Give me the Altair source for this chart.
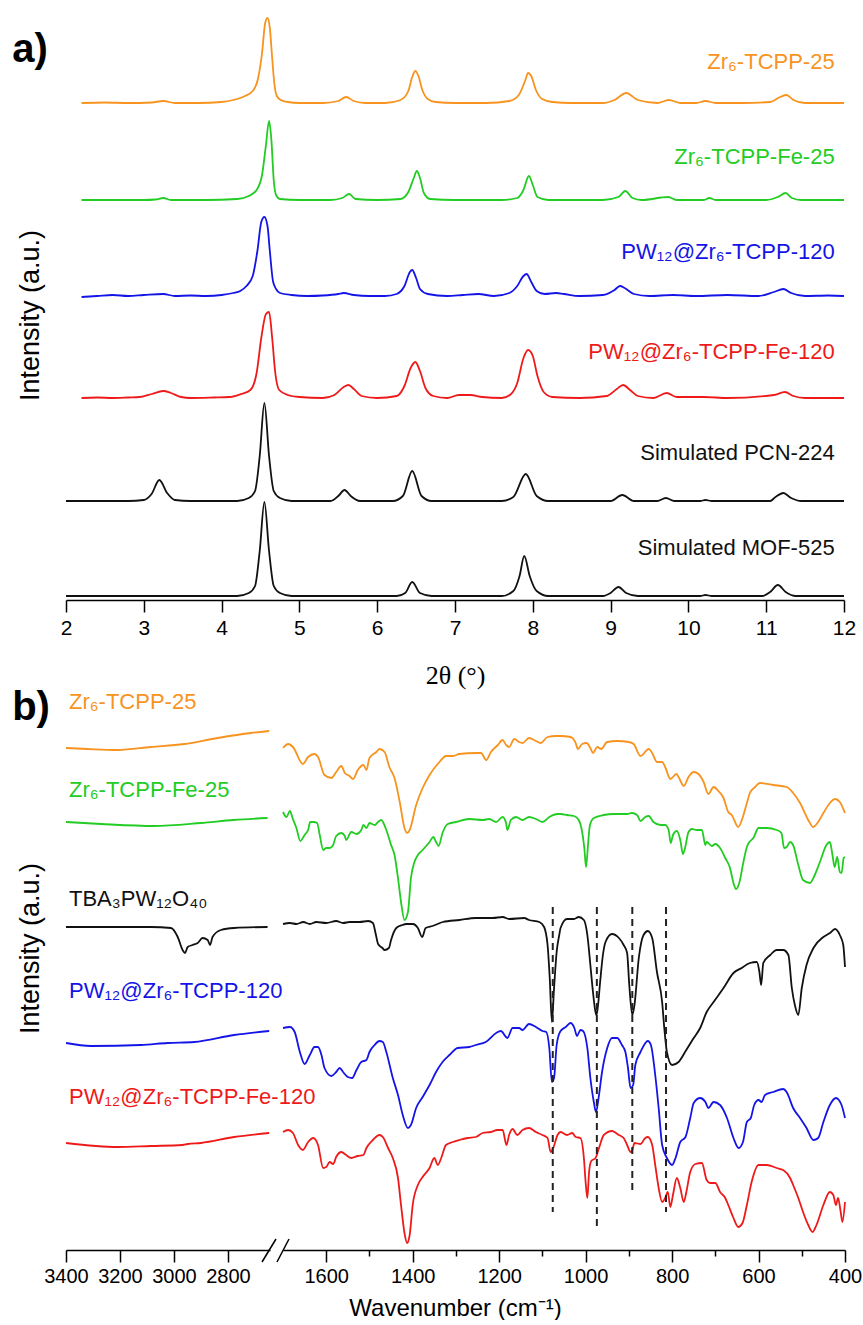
import altair as alt
import pandas as pd

FONT = "Liberation Sans"

# ---------------------------------------------------------------- series
SERIES = [
    "Zr₆-TCPP-25",
    "Zr₆-TCPP-Fe-25",
    "PW₁₂@Zr₆-TCPP-120",
    "PW₁₂@Zr₆-TCPP-Fe-120",
    "Simulated PCN-224",
    "Simulated MOF-525",
    "TBA₃PW₁₂O₄₀",
]
COLORS = ["#F7931E", "#22CC22", "#1414E6", "#EE1A1A", "#111111", "#111111", "#111111"]

# ---------------------------------------------------------------- (a) PXRD
# (2theta, intensity above the trace's own baseline)
XRD_ZR = [(2.2, 0), (2.5, 0.5), (2.8, 0), (3.1, 0.5), (3.25, 2), (3.4, 0), (3.7, 0), (4.0, 1),
          (4.15, 3), (4.3, 7), (4.4, 12), (4.47, 25), (4.52, 50), (4.56, 80), (4.59, 85),
          (4.62, 75), (4.65, 45), (4.68, 18), (4.71, 7), (4.76, 3), (4.85, 1), (5.0, 0),
          (5.3, 0), (5.5, 2), (5.6, 6), (5.7, 2), (5.85, 0), (6.1, 0), (6.3, 3), (6.4, 12),
          (6.45, 26), (6.49, 32), (6.53, 27), (6.58, 13), (6.65, 4), (6.75, 1), (7.0, 0),
          (7.4, 0), (7.7, 2), (7.82, 8), (7.9, 22), (7.94, 30), (7.98, 27), (8.04, 13),
          (8.12, 4), (8.25, 1), (8.5, 0), (8.9, 0), (9.05, 3), (9.2, 10), (9.35, 3), (9.6, 0),
          (9.75, 3), (9.9, 0), (10.1, 0), (10.22, 2), (10.35, 0), (10.7, 0), (11.05, 1),
          (11.18, 6), (11.26, 8), (11.35, 3), (11.5, 0), (11.8, 0), (12.0, 0)]
XRD_ZR_FE = [(2.2, 0), (2.6, 0), (3.0, 0), (3.15, 0.5), (3.25, 2), (3.35, 0), (3.8, 0), (4.2, 1),
             (4.35, 4), (4.45, 10), (4.52, 25), (4.57, 55), (4.61, 79), (4.64, 60), (4.67, 20),
             (4.7, 5), (4.75, 1), (5.0, 0), (5.4, 0), (5.55, 2), (5.64, 6), (5.72, 1), (6.0, 0),
             (6.3, 1), (6.4, 8), (6.47, 22), (6.51, 29), (6.55, 22), (6.6, 7), (6.68, 1),
             (7.0, 0), (7.6, 0), (7.8, 2), (7.88, 10), (7.95, 24), (8.0, 15), (8.06, 3),
             (8.2, 0), (8.9, 0), (9.1, 3), (9.19, 9), (9.28, 2), (9.4, 0), (9.74, 3), (9.85, 0),
             (10.2, 0), (10.27, 2), (10.35, 0), (11.0, 0), (11.15, 3), (11.25, 7), (11.33, 2),
             (11.45, 0), (12.0, 0)]
XRD_PW_ZR = [(2.2, -1), (2.4, 0), (2.6, 1), (2.8, 0), (3.0, 1), (3.25, 2), (3.4, 0), (3.6, 0.5),
             (3.8, 0), (4.0, 1), (4.15, 3), (4.24, 5), (4.32, 10), (4.4, 20), (4.46, 45),
             (4.51, 74), (4.55, 79), (4.59, 70), (4.62, 45), (4.66, 15), (4.7, 7), (4.75, 3),
             (4.9, 1), (5.1, 0), (5.3, 0.5), (5.5, 2), (5.57, 3), (5.7, 1), (5.9, 0), (6.1, 0),
             (6.25, 2), (6.35, 10), (6.42, 24), (6.45, 26), (6.5, 18), (6.55, 7), (6.65, 2),
             (6.9, 0), (7.1, 1), (7.3, 2), (7.5, 0), (7.7, 3), (7.8, 10), (7.88, 20), (7.92, 22),
             (7.98, 14), (8.05, 5), (8.15, 2), (8.3, 3), (8.4, 2), (8.6, 0), (8.9, 1), (9.05, 6),
             (9.12, 10), (9.18, 8), (9.3, 2), (9.5, 0), (9.8, 1), (10.1, 0), (10.5, 1),
             (10.9, 0), (11.1, 4), (11.22, 7), (11.32, 3), (11.5, 0), (11.8, 0.5), (12.0, 0)]
XRD_PW_ZR_FE = [(2.2, 0), (2.4, 0.5), (2.6, 0), (2.8, 0.5), (2.95, 1), (3.1, 4), (3.25, 7),
                (3.35, 5), (3.48, 1), (3.6, 0), (3.9, 0.5), (4.1, 1), (4.25, 4), (4.37, 8),
                (4.45, 25), (4.51, 60), (4.57, 84), (4.61, 86), (4.65, 60), (4.69, 25),
                (4.74, 8), (4.85, 3), (5.0, 1), (5.3, 0), (5.45, 3), (5.57, 11), (5.63, 13),
                (5.7, 9), (5.8, 2), (6.0, 0), (6.25, 2), (6.35, 12), (6.43, 30), (6.49, 36),
                (6.55, 27), (6.62, 10), (6.72, 2), (6.9, 0), (7.05, 3), (7.2, 3), (7.35, 1),
                (7.6, 0), (7.72, 4), (7.8, 15), (7.88, 40), (7.94, 48), (8.0, 42), (8.06, 22),
                (8.14, 6), (8.25, 1), (8.6, 0), (8.95, 2), (9.08, 9), (9.16, 13), (9.25, 8),
                (9.35, 2), (9.55, 0), (9.72, 5), (9.85, 1), (10.2, 1), (10.5, 0), (11.1, 3),
                (11.24, 6), (11.35, 2), (11.5, 0), (12.0, 0)]
XRD_PCN224 = [(2.0, 0), (2.8, 0), (3.0, 1), (3.1, 7), (3.2, 21), (3.3, 8), (3.4, 1), (3.6, 0),
              (4.2, 0), (4.35, 3), (4.43, 10), (4.49, 45), (4.55, 98), (4.61, 45), (4.67, 10),
              (4.75, 3), (4.9, 0), (5.4, 0), (5.5, 5), (5.58, 11), (5.66, 5), (5.78, 0),
              (6.2, 0), (6.33, 5), (6.45, 30), (6.57, 5), (6.7, 0), (7.6, 0), (7.75, 4),
              (7.91, 27), (8.05, 5), (8.2, 0), (9.0, 0), (9.15, 6), (9.3, 0), (9.6, 0),
              (9.71, 3), (9.82, 0), (10.15, 0), (10.22, 1), (10.3, 0), (11.05, 0), (11.12, 4),
              (11.22, 8), (11.32, 3), (11.45, 0), (12.0, 0)]
XRD_MOF525 = [(2.0, 0), (4.2, 0), (4.35, 3), (4.43, 10), (4.49, 45), (4.55, 94), (4.61, 45),
              (4.67, 10), (4.75, 3), (4.9, 0), (6.25, 0), (6.36, 3), (6.45, 14), (6.55, 3),
              (6.7, 0), (7.6, 0), (7.75, 5), (7.83, 20), (7.89, 40), (7.96, 20), (8.05, 5),
              (8.2, 0), (8.9, 0), (9.0, 3), (9.1, 9), (9.2, 3), (9.35, 0), (10.15, 0),
              (10.22, 1), (10.3, 0), (10.95, 0), (11.05, 4), (11.15, 11), (11.25, 4),
              (11.38, 0), (12.0, 0)]

XRD_TRACES = [XRD_ZR, XRD_ZR_FE, XRD_PW_ZR, XRD_PW_ZR_FE, XRD_PCN224, XRD_MOF525]
XRD_NAMES = SERIES[:6]
XRD_OFFSETS = [497, 400, 304, 202, 99, 4]
XRD_LABEL_Y = [538, 443, 348, 248, 147, 52]
XRD_LABEL_X = 11.88
XRD_TICKS = [2 + 0.5 * i for i in range(21)]

# ---------------------------------------------------------------- (b) FT-IR
# (wavenumber, stacked transmittance) for the high- and low-wavenumber windows
IR_ZR_HI = [(3400, 502), (3320, 501), (3209, 500), (3085, 503), (2962, 506), (2838, 512),
            (2715, 517), (2647, 519)]
IR_ZR_FE_HI = [(3400, 428), (3270, 426), (3074, 424), (2900, 427), (2778, 430), (2653, 432)]
IR_TBA_HI = [(3400, 323), (3270, 323), (3085, 323), (3011, 322), (2986, 313), (2968, 300),
             (2959, 297), (2949, 303), (2931, 305), (2912, 307), (2894, 312), (2875, 310),
             (2866, 305), (2857, 313), (2826, 320), (2777, 322), (2653, 323)]
IR_PW_ZR_HI = [(3400, 207), (3307, 204), (3122, 205), (3023, 207), (2925, 208), (2777, 215),
               (2647, 219)]
IR_PW_ZR_FE_HI = [(3400, 107), (3209, 103), (3085, 104), (2968, 105), (2949, 106), (2900, 107),
                  (2777, 113), (2647, 117)]

IR_ZR_LO = [(1700, 502), (1688, 506), (1677, 503), (1654, 486), (1642, 493), (1627, 496),
            (1619, 493), (1604, 475), (1588, 472), (1577, 478), (1565, 484), (1557, 477),
            (1546, 474), (1538, 471), (1527, 480), (1514, 485), (1507, 480), (1500, 492),
            (1484, 498), (1477, 501), (1465, 498), (1454, 483), (1442, 472), (1430, 448),
            (1419, 422), (1413, 417), (1407, 420), (1392, 445), (1377, 462), (1361, 475),
            (1338, 488), (1323, 494), (1307, 494), (1292, 496), (1254, 497), (1242, 497),
            (1230, 490), (1219, 498), (1203, 505), (1192, 510), (1184, 505), (1177, 503),
            (1165, 511), (1154, 508), (1146, 507), (1131, 512), (1115, 509), (1104, 507),
            (1088, 513), (1069, 514), (1058, 514), (1035, 513), (1023, 507), (1018, 501),
            (1008, 506), (998, 507), (989, 502), (983, 497), (973, 503), (964, 501), (950, 508),
            (927, 509), (900, 508), (889, 506), (873, 494), (854, 501), (846, 497), (835, 488),
            (823, 488), (816, 483), (804, 471), (790, 476), (785, 473), (773, 464), (762, 473),
            (750, 478), (739, 476), (727, 468), (716, 456), (704, 463), (693, 459), (681, 452),
            (670, 438), (662, 435), (647, 423), (637, 432), (627, 447), (620, 457), (608, 463),
            (597, 467), (566, 465), (535, 463), (520, 457), (504, 447), (485, 430), (474, 423),
            (462, 428), (450, 437), (435, 447), (423, 451), (412, 448), (400, 437)]
IR_ZR_FE_LO = [(1700, 438), (1692, 433), (1684, 439), (1678, 432), (1669, 422), (1660, 409),
               (1650, 415), (1642, 420), (1637, 428), (1629, 428), (1621, 427), (1615, 415),
               (1607, 400), (1600, 402), (1592, 402), (1584, 405), (1577, 414), (1565, 417),
               (1557, 414), (1554, 410), (1542, 418), (1530, 416), (1519, 420), (1514, 425),
               (1507, 422), (1500, 427), (1488, 425), (1480, 428), (1473, 430), (1461, 420),
               (1450, 405), (1442, 395), (1434, 372), (1427, 348), (1419, 330), (1411, 338),
               (1404, 372), (1396, 388), (1388, 395), (1377, 400), (1361, 408), (1352, 413),
               (1346, 408), (1340, 404), (1331, 417), (1319, 426), (1300, 428), (1269, 431),
               (1238, 430), (1223, 431), (1207, 428), (1192, 433), (1184, 427), (1181, 420),
               (1173, 430), (1161, 433), (1146, 430), (1131, 433), (1115, 431), (1100, 428),
               (1084, 433), (1065, 436), (1058, 436), (1043, 435), (1027, 434), (1016, 430),
               (1008, 418), (1003, 402), (999, 383), (995, 402), (990, 425), (981, 432),
               (958, 435), (935, 436), (904, 436), (893, 437), (881, 435), (873, 429), (862, 433),
               (854, 434), (843, 428), (827, 425), (816, 425), (808, 420), (803, 407), (798, 415),
               (789, 419), (781, 410), (775, 396), (770, 402), (762, 418), (754, 421), (743, 420),
               (731, 420), (723, 405), (720, 408), (708, 404), (700, 406), (689, 402), (677, 392),
               (666, 382), (658, 367), (652, 361), (644, 368), (635, 388), (627, 403), (621, 408),
               (612, 412), (600, 422), (581, 422), (558, 420), (547, 417), (541, 402), (535, 403),
               (527, 408), (520, 405), (508, 385), (497, 370), (481, 367), (470, 375), (458, 388),
               (443, 405), (435, 408), (429, 395), (424, 383), (418, 393), (412, 378), (408, 377),
               (403, 392), (400, 393)]
IR_TBA_LO = [(1700, 326), (1684, 327), (1669, 326), (1653, 328), (1638, 326), (1623, 328),
             (1600, 327), (1577, 329), (1561, 327), (1546, 328), (1523, 328), (1503, 329),
             (1492, 327), (1486, 317), (1480, 306), (1470, 302), (1465, 300), (1455, 302),
             (1450, 310), (1438, 322), (1424, 325), (1415, 326), (1400, 326), (1388, 322),
             (1378, 313), (1370, 322), (1354, 324), (1330, 328), (1292, 330), (1254, 332),
             (1215, 332), (1192, 333), (1177, 331), (1142, 332), (1131, 330), (1107, 328),
             (1096, 323), (1088, 305), (1083, 272), (1078, 228), (1073, 262), (1067, 298),
             (1061, 315), (1058, 322), (1043, 331), (1027, 331), (1016, 333), (1004, 330),
             (996, 315), (989, 285), (983, 258), (978, 240), (975, 235), (972, 242), (966, 270),
             (960, 295), (954, 308), (939, 316), (923, 312), (912, 305), (904, 297), (899, 265),
             (892, 235), (887, 245), (877, 292), (866, 315), (856, 319), (846, 312), (835, 278),
             (823, 248), (818, 222), (812, 198), (800, 185), (785, 188), (770, 198), (750, 212),
             (735, 222), (720, 238), (704, 248), (681, 262), (658, 277), (639, 282), (620, 287),
             (604, 288), (598, 278), (594, 265), (589, 287), (573, 295), (558, 300), (543, 300),
             (531, 295), (523, 262), (516, 245), (508, 235), (500, 262), (489, 285), (473, 302),
             (450, 313), (435, 317), (423, 321), (412, 315), (404, 305), (400, 283)]
IR_PW_ZR_LO = [(1700, 222), (1684, 223), (1673, 218), (1661, 198), (1650, 186), (1638, 195),
               (1627, 203), (1619, 203), (1611, 195), (1604, 182), (1588, 174), (1577, 178),
               (1569, 182), (1561, 178), (1550, 173), (1540, 172), (1530, 180), (1519, 188),
               (1507, 190), (1500, 198), (1488, 205), (1477, 209), (1469, 208), (1461, 198),
               (1446, 172), (1434, 155), (1423, 135), (1411, 122), (1404, 125), (1392, 142),
               (1377, 153), (1361, 165), (1346, 178), (1331, 188), (1315, 195), (1296, 202),
               (1269, 203), (1254, 205), (1231, 208), (1207, 217), (1196, 219), (1184, 213),
               (1181, 212), (1169, 222), (1154, 222), (1146, 220), (1131, 226), (1115, 223),
               (1100, 219), (1091, 218), (1084, 202), (1078, 168), (1073, 172), (1067, 205),
               (1058, 219), (1046, 223), (1035, 227), (1026, 222), (1020, 214), (1012, 220),
               (1006, 219), (996, 202), (989, 172), (981, 148), (976, 138), (970, 152),
               (962, 178), (950, 202), (939, 212), (927, 212), (916, 205), (908, 198), (902, 182),
               (896, 162), (890, 165), (885, 185), (873, 198), (856, 209), (849, 205), (839, 175),
               (831, 142), (823, 105), (812, 92), (800, 85), (792, 92), (781, 108), (769, 113),
               (758, 132), (750, 147), (735, 152), (723, 148), (716, 142), (704, 148), (689, 145),
               (673, 132), (658, 112), (646, 102), (636, 108), (627, 128), (618, 132), (610, 145),
               (600, 150), (593, 148), (585, 155), (566, 158), (543, 161), (535, 158), (520, 142),
               (504, 132), (489, 122), (473, 110), (462, 112), (450, 128), (435, 145), (421, 152),
               (408, 145), (400, 132)]
IR_PW_ZR_FE_LO = [(1700, 118), (1688, 120), (1677, 117), (1665, 105), (1654, 100), (1642, 108),
                  (1630, 112), (1619, 105), (1607, 82), (1600, 83), (1592, 88), (1584, 86),
                  (1577, 93), (1565, 98), (1554, 95), (1542, 92), (1527, 94), (1514, 95),
                  (1507, 102), (1492, 110), (1477, 115), (1469, 113), (1457, 102), (1446, 92),
                  (1434, 72), (1427, 45), (1419, 17), (1413, 7), (1407, 15), (1400, 45),
                  (1388, 65), (1377, 73), (1361, 82), (1350, 92), (1342, 85), (1334, 92),
                  (1323, 105), (1307, 108), (1292, 110), (1273, 112), (1254, 113), (1238, 117),
                  (1219, 118), (1204, 120), (1192, 120), (1183, 105), (1177, 115), (1169, 121),
                  (1158, 115), (1146, 120), (1131, 122), (1115, 118), (1100, 115), (1088, 112),
                  (1081, 98), (1075, 102), (1065, 115), (1058, 118), (1043, 115), (1031, 117),
                  (1023, 113), (1012, 112), (1004, 92), (1000, 68), (996, 52), (992, 78),
                  (987, 89), (977, 92), (969, 102), (958, 115), (939, 119), (923, 115), (912, 112),
                  (904, 105), (896, 98), (892, 100), (887, 107), (873, 106), (862, 112),
                  (856, 113), (846, 105), (839, 85), (831, 62), (823, 48), (816, 52), (810, 58),
                  (804, 43), (798, 55), (789, 72), (781, 62), (773, 48), (767, 58), (758, 78),
                  (746, 86), (731, 87), (720, 70), (712, 67), (700, 67), (689, 58), (677, 52),
                  (670, 45), (658, 32), (647, 23), (637, 27), (627, 45), (616, 68), (600, 85),
                  (581, 85), (558, 82), (543, 80), (527, 72), (520, 65), (508, 52), (497, 38),
                  (485, 25), (475, 18), (466, 25), (450, 45), (435, 58), (427, 55), (421, 45),
                  (416, 52), (410, 38), (406, 28), (400, 48)]

IR_NAMES = [SERIES[0], SERIES[1], SERIES[6], SERIES[2], SERIES[3]]
IR_HI = [IR_ZR_HI, IR_ZR_FE_HI, IR_TBA_HI, IR_PW_ZR_HI, IR_PW_ZR_FE_HI]
IR_LO = [IR_ZR_LO, IR_ZR_FE_LO, IR_TBA_LO, IR_PW_ZR_LO, IR_PW_ZR_FE_LO]
IR_LABEL_Y = [548, 460, 351, 259, 153]
IR_LABEL_X = 3389

# Keggin PW12 bands marked with dashed guides
KEGGIN_WN = [1076, 974, 892, 814]
KEGGIN_TOP = [343, 343, 343, 343]
KEGGIN_BOTTOM = [38, 22, 58, 38]

HI_TICKS = [3400, 3300, 3200, 3100, 3000, 2900, 2800, 2700]
LO_TICKS = [1600, 1500, 1400, 1300, 1200, 1100, 1000, 900, 800, 700, 600, 500, 400]

# ---------------------------------------------------------------- tables
xrd_rows = []
for name, pairs, off in zip(XRD_NAMES, XRD_TRACES, XRD_OFFSETS):
    for x, h in pairs:
        xrd_rows.append({"series": name, "two_theta": x, "y": off + h})
xrd_df = pd.DataFrame(xrd_rows)
xrd_labels = pd.DataFrame({"series": XRD_NAMES, "two_theta": [XRD_LABEL_X] * 6, "y": XRD_LABEL_Y})


def ir_frame(traces):
    rows = []
    for name, pairs in zip(IR_NAMES, traces):
        for wn, h in pairs:
            rows.append({"series": name, "wn": wn, "h": h})
    return pd.DataFrame(rows)


ir_hi_df = ir_frame(IR_HI)
ir_lo_df = ir_frame(IR_LO)
ir_labels = pd.DataFrame({"series": IR_NAMES, "wn": [IR_LABEL_X] * 5, "h": IR_LABEL_Y})
keggin_df = pd.DataFrame({"wn": KEGGIN_WN, "h": KEGGIN_TOP, "h2": KEGGIN_BOTTOM})

color = alt.Color("series:N", scale=alt.Scale(domain=SERIES, range=COLORS), legend=None)


def tick_size(step):
    # long ticks on labelled values, short ones in between
    return {"condition": {"test": f"datum.value % {step} !== 0", "value": 6}, "value": 12}


def label_expr(step):
    return f"datum.value % {step} === 0 ? format(datum.value, 'd') : ''"


hidden_y = dict(domain=False, ticks=False, labels=False, grid=False)

# ---------------------------------------------------------------- panel (a)
x_a = alt.X("two_theta:Q", scale=alt.Scale(domain=[2, 12], nice=False, zero=False),
            axis=alt.Axis(values=XRD_TICKS, labelExpr=label_expr(1), tickSize=tick_size(1),
                          labelOverlap=False, labelFlush=False, labelPadding=5,
                          labelFontSize=21, title="2θ (°)",
                          titleFont="Liberation Serif", titleFontSize=26, titleY=62))
y_a = alt.Y("y:Q", scale=alt.Scale(domain=[0, 590], nice=False, zero=False),
            axis=alt.Axis(title="Intensity (a.u.)", titleX=-22, titleY=305, **hidden_y))

xrd_lines = alt.Chart(xrd_df).mark_line(strokeWidth=1.8, interpolate="monotone").encode(
    x=x_a, y=y_a, color=color)
xrd_text = alt.Chart(xrd_labels).mark_text(align="right", baseline="middle", font=FONT,
                                           fontSize=22).encode(
    x="two_theta:Q", y="y:Q", text="series:N", color=color)
tag_a = alt.Chart(pd.DataFrame({"tag": ["a)"]})).mark_text(
    font=FONT, fontSize=40, fontWeight="bold", align="center", baseline="middle",
    color="black").encode(x=alt.value(-36), y=alt.value(40), text="tag:N")

panel_a = alt.layer(xrd_lines, xrd_text, tag_a).properties(width=778, height=590)

# ---------------------------------------------------------------- panel (b)
y_b = alt.Y("h:Q", scale=alt.Scale(domain=[0, 560], nice=False, zero=False),
            axis=alt.Axis(title="Intensity (a.u.)", titleX=-22, titleY=258, **hidden_y))
y_b_plain = alt.Y("h:Q", scale=alt.Scale(domain=[0, 560], nice=False, zero=False), axis=None)

x_hi = alt.X("wn:Q", scale=alt.Scale(domain=[3400, 2644], nice=False, zero=False),
             axis=alt.Axis(values=HI_TICKS, labelExpr=label_expr(200), tickSize=tick_size(200),
                           labelOverlap=False, labelFlush=False, labelPadding=4,
                           labelFontSize=20, title=None))
x_lo = alt.X("wn:Q", scale=alt.Scale(domain=[1700, 400], nice=False, zero=False),
             axis=alt.Axis(values=LO_TICKS, labelExpr=label_expr(200), tickSize=tick_size(200),
                           labelOverlap=False, labelFlush=False, labelPadding=4,
                           labelFontSize=20, title="Wavenumber (cm⁻¹)", titleFontSize=24,
                           titleX=172, titleY=46))

hi_lines = alt.Chart(ir_hi_df).mark_line(strokeWidth=1.8, interpolate="monotone").encode(
    x=x_hi, y=y_b, color=color)
ir_text = alt.Chart(ir_labels).mark_text(align="left", baseline="middle", font=FONT,
                                         fontSize=22).encode(
    x="wn:Q", y="h:Q", text="series:N", color=color)
tag_b = alt.Chart(pd.DataFrame({"tag": ["b)"]})).mark_text(
    font=FONT, fontSize=40, fontWeight="bold", align="center", baseline="middle",
    color="black").encode(x=alt.value(-35), y=alt.value(18), text="tag:N")
one = pd.DataFrame({"k": [0]})
slash_1 = alt.Chart(one).mark_rule(color="black", strokeWidth=1.5).encode(
    x=alt.value(196), y=alt.value(572), x2=alt.value(210), y2=alt.value(549))
slash_2 = alt.Chart(one).mark_rule(color="black", strokeWidth=1.5).encode(
    x=alt.value(211), y=alt.value(572), x2=alt.value(223), y2=alt.value(549))

panel_b_hi = alt.layer(hi_lines, ir_text, tag_b, slash_1, slash_2).properties(width=204, height=560)

lo_lines = alt.Chart(ir_lo_df).mark_line(strokeWidth=1.8, interpolate="monotone").encode(
    x=x_lo, y=y_b_plain, color=color)
guides = alt.Chart(keggin_df).mark_rule(strokeDash=[7, 5], strokeWidth=2, color="#222222").encode(
    x="wn:Q", y="h:Q", y2="h2:Q")

panel_b_lo = alt.layer(lo_lines, guides).properties(width=562, height=560)

panel_b = alt.hconcat(panel_b_hi, panel_b_lo, spacing=13, bounds="flush")

chart = (
    alt.vconcat(panel_a, panel_b, spacing=90, bounds="flush")
    .properties(padding={"left": 12, "top": 10, "right": 0, "bottom": 0}, background="white")
    .configure_view(stroke=None)
    .configure_axis(domainColor="black", domainWidth=1.5, tickColor="black", tickWidth=1.5,
                    labelFont=FONT, labelFontSize=22, labelColor="black", grid=False,
                    titleFont=FONT, titleFontSize=27, titleFontWeight="normal",
                    titleColor="black")
)

chart.save("out.html", embed_options={"renderer": "svg", "actions": False})
